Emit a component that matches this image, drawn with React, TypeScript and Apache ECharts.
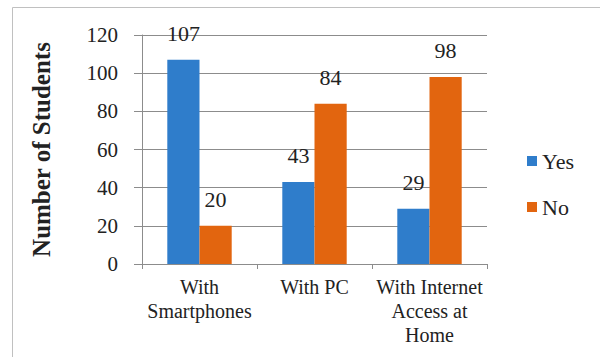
import React, { useEffect, useRef } from "react";
import * as echarts from "echarts";

const categories = ["With\nSmartphones", "With PC", "With Internet\nAccess at\nHome"];
const yesValues = [107, 43, 29];
const noValues = [20, 84, 98];
const seriesNames = ["Yes", "No"];

const FONT = "'Liberation Serif', 'Times New Roman', serif";

export default function App() {
  const ref = useRef<HTMLDivElement>(null);
  useEffect(() => {
    if (!ref.current) return;
    const chart = echarts.init(ref.current, undefined, { renderer: "svg" });
    chart.setOption({
      animation: false,
      backgroundColor: "#ffffff",
      textStyle: { fontFamily: FONT },
      graphic: [
        {
          type: "rect",
          shape: { x: 12.5, y: 7.5, width: 700, height: 500 },
          style: { fill: "none", stroke: "#c0c0c0", lineWidth: 1 },
          silent: true,
        },
      ],
      grid: { left: 142, right: 113, top: 35, bottom: 93, containLabel: false },
      legend: {
        orient: "vertical",
        left: 522,
        top: 145,
        itemWidth: 10,
        itemHeight: 10,
        itemGap: 24,
        icon: "rect",
        textStyle: { fontFamily: FONT, fontSize: 22, color: "#222" },
        data: seriesNames,
      },
      xAxis: {
        type: "category",
        data: categories,
        axisLine: { show: true, lineStyle: { color: "#8c8c8c" } },
        axisTick: { show: true, length: 5, lineStyle: { color: "#8c8c8c" } },
        axisLabel: {
          fontFamily: FONT,
          fontSize: 20,
          color: "#222",
          margin: 11,
          lineHeight: 24,
          interval: 0,
        },
      },
      yAxis: {
        type: "value",
        min: 0,
        max: 120,
        interval: 20,
        name: "Number of Students",
        nameLocation: "middle",
        nameGap: 88,
        nameTextStyle: { fontFamily: FONT, fontSize: 25, fontWeight: "bold", color: "#222" },
        axisLine: { show: true, lineStyle: { color: "#8c8c8c" } },
        axisTick: { show: true, length: 8, lineStyle: { color: "#8c8c8c" } },
        splitLine: { show: true, lineStyle: { color: "#8c8c8c" } },
        axisLabel: { fontFamily: FONT, fontSize: 21, color: "#222", margin: 24 },
      },
      series: [
        {
          name: seriesNames[0],
          type: "bar",
          data: yesValues,
          barGap: "0%",
          barCategoryGap: "44%",
          itemStyle: { color: "#2f7dcb" },
          label: { show: true, position: "top", distance: 15, fontFamily: FONT, fontSize: 22, color: "#222" },
        },
        {
          name: seriesNames[1],
          type: "bar",
          data: noValues,
          barGap: "0%",
          barCategoryGap: "44%",
          itemStyle: { color: "#e2650f" },
          label: { show: true, position: "top", distance: 15, fontFamily: FONT, fontSize: 22, color: "#222" },
        },
      ],
    });
    return () => chart.dispose();
  }, []);
  return (
    <div
      ref={ref}
      style={{ position: "fixed", left: 0, top: 0, width: 600, height: 357 }}
    />
  );
}
